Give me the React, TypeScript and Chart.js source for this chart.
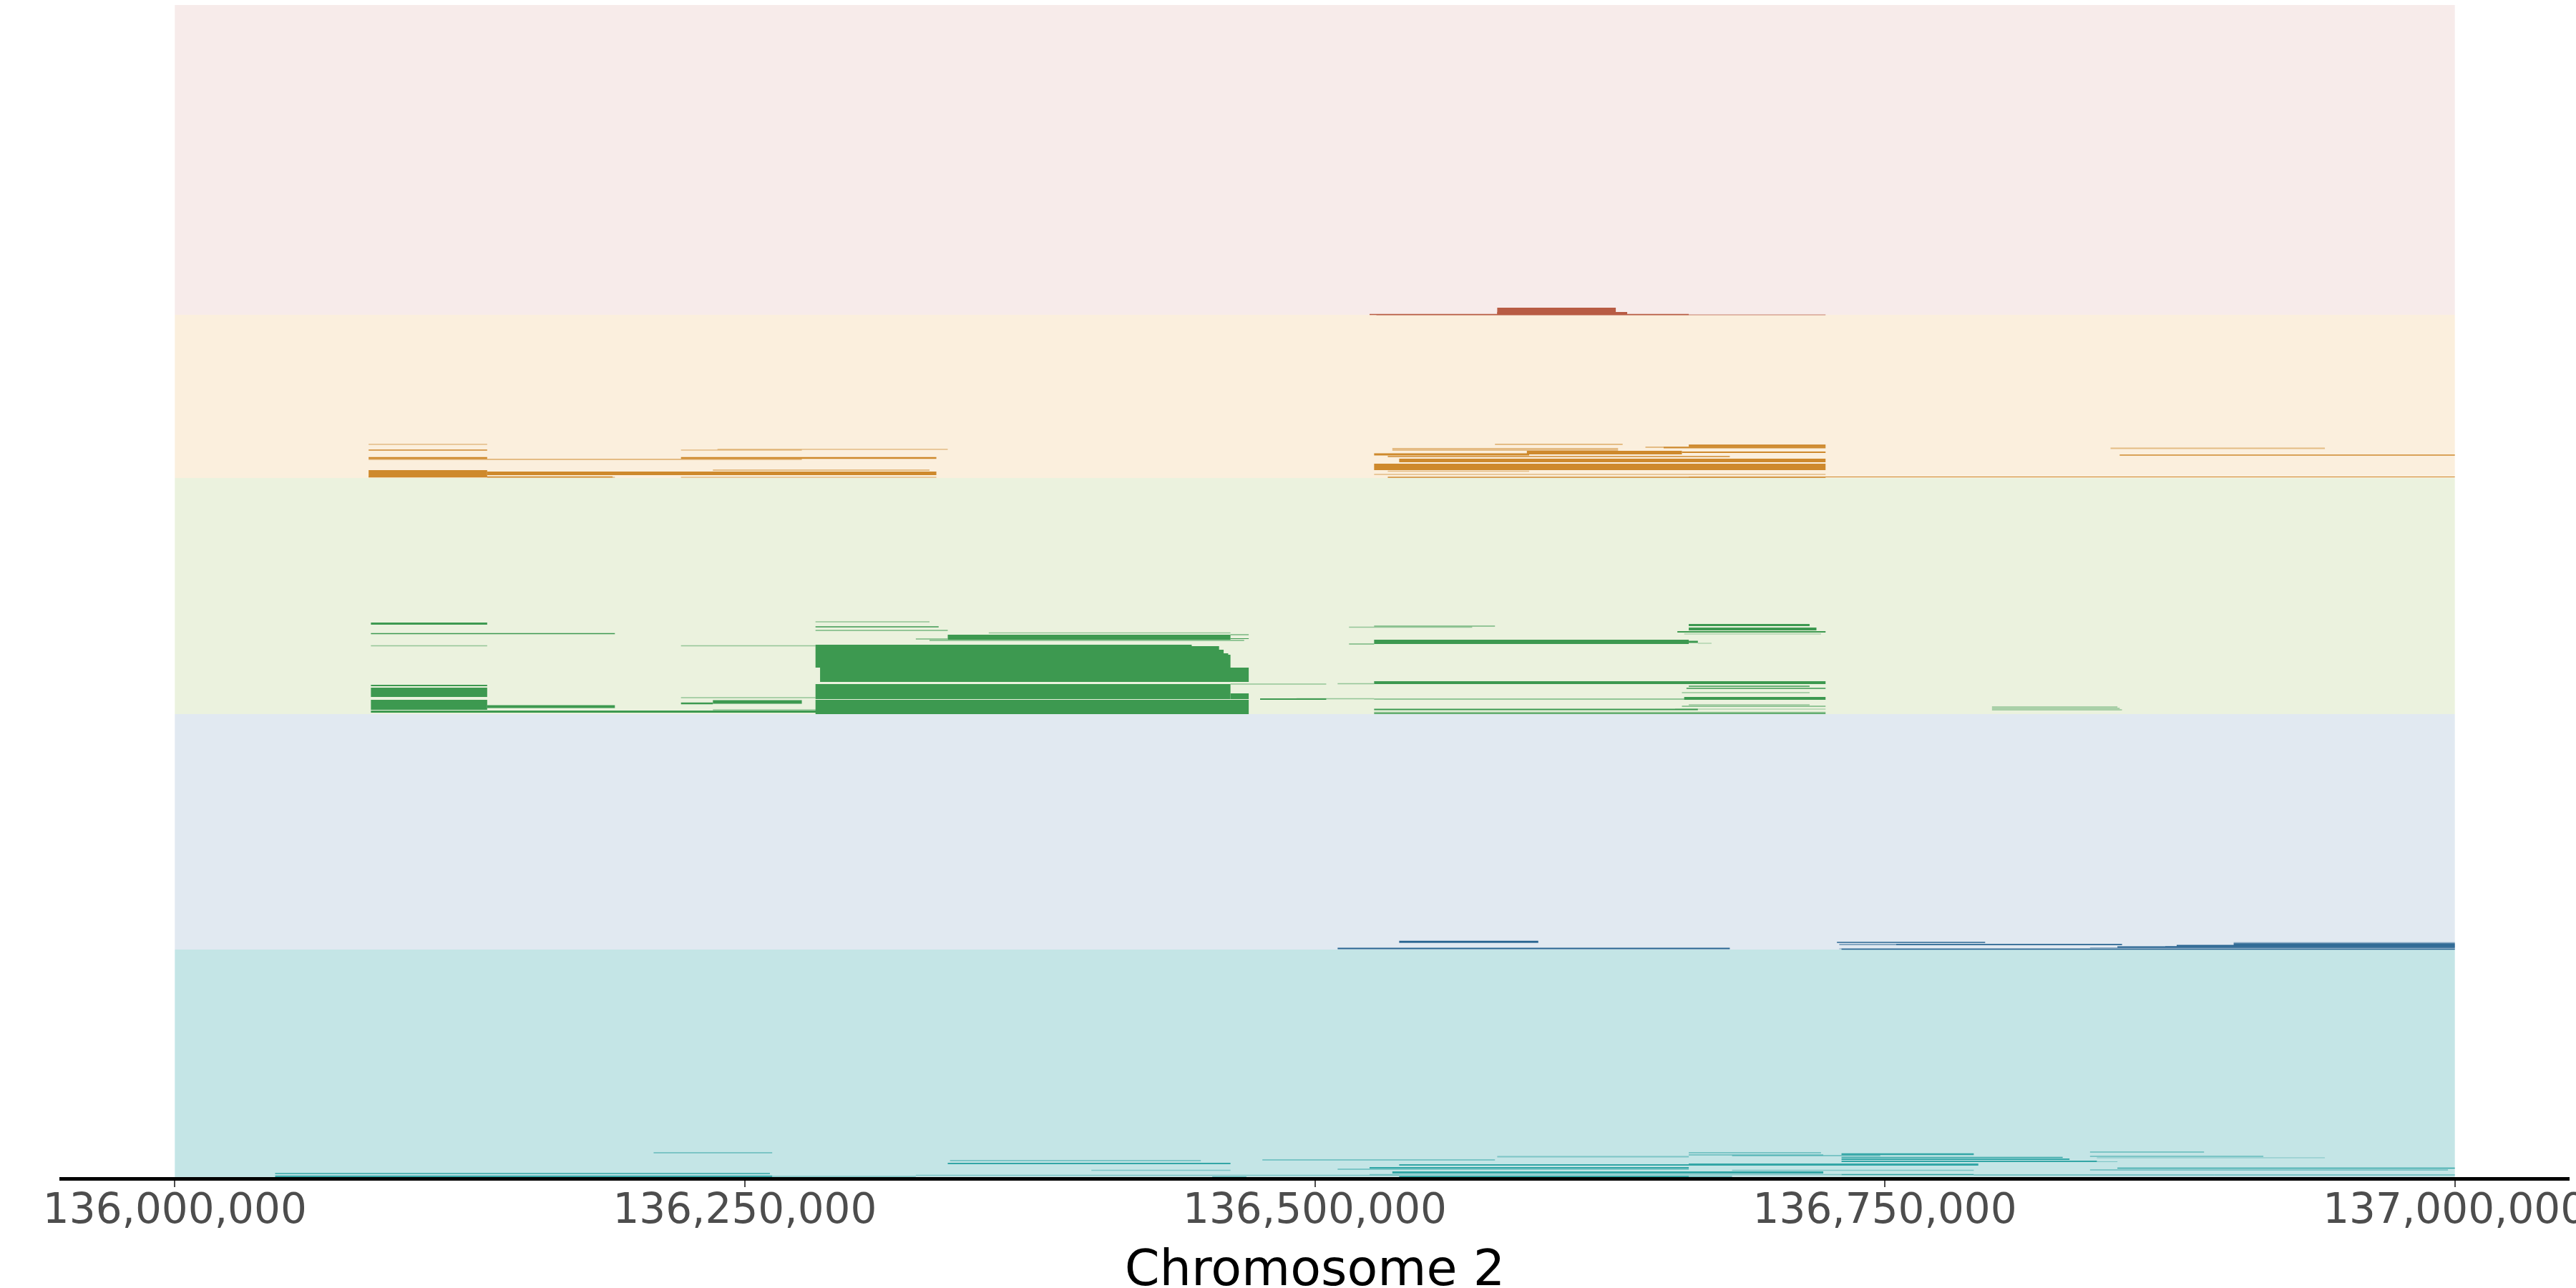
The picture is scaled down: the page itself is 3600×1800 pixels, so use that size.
import React, { useEffect, useRef } from 'react';
import { Chart, registerables } from 'chart.js';

Chart.register(...registerables);

// ---------- data ----------
const REGION_START = 136000000; // bp
const REGION_END_KB = 1000; // region length in kb
const AXIS_MIN = 135950000;
const AXIS_MAX = 137050000;
const X_TICKS = [136000000, 136250000, 136500000, 136750000, 137000000];
const X_TITLE = 'Chromosome 2';
const Y_MAX = 1640;

// track bands, bottom to top (teal, blue, green, peach, pink)
const BAND_EDGES = [0, 320, 649, 979, 1207, 1640];
const BAND_COLORS = ['#c4e5e6', '#e1e9f1', '#ebf2de', '#fbefdd', '#f7ebea'];

// intervals: [start kb, end kb, track value, track height]
const RED_SOLID = [
  [524, 664, 1207.5, 1.5],
  [580, 632, 1212, 10],
  [580, 637, 1209, 4],
];
const RED_LIGHT = [
  [527, 724, 1207, 1.5],
];

const ORANGE_SOLID = [
  [85, 137, 1018, 1.5],
  [85, 137, 1007, 2.5],
  [85, 275, 1005, 1.2],
  [85, 137, 985, 10],
  [137, 334, 985.5, 5],
  [85, 192, 980.5, 1.5],
  [222, 334, 1007, 2.5],
  [236, 331, 990, 1],
  [579, 635, 1026, 1.2],
  [664, 724, 1024, 3.5],
  [653, 724, 1021.5, 2],
  [534, 633, 1018, 1],
  [534, 633, 1020, 1],
  [526, 594, 1012, 3],
  [593, 661, 1014.5, 5],
  [661, 724, 1015, 2],
  [532, 682, 1009, 1.3],
  [537, 724, 1003.5, 5],
  [526, 724, 994.5, 9],
  [532, 724, 980, 1.5],
  [664, 1000, 980.5, 1.2],
  [853, 1000, 1011, 1.3],
];
const ORANGE_LIGHT = [
  [85, 137, 1026, 1.5],
  [137, 193, 980, 1.5],
  [222, 275, 1018, 1.5],
  [238, 339, 1019, 1.5],
  [222, 334, 980, 1.5],
  [532, 594, 988.5, 1.5],
  [526, 724, 984, 1.5],
  [645, 664, 1022, 2],
  [849, 943, 1020.5, 2],
];

const GREEN_SOLID = [
  [86, 137, 775.5, 3],
  [86, 193, 761.5, 1.5],
  [86, 137, 689, 2],
  [86, 137, 679.5, 13],
  [86, 137, 662, 14],
  [137, 193, 659.5, 4],
  [86, 282, 652.5, 3],
  [222, 236, 664, 2.5],
  [236, 275, 666, 5],
  [281, 335, 771, 1.5],
  [281, 339, 766, 1.2],
  [339, 463, 756.5, 7],
  [463, 471, 760, 1],
  [463, 471, 754.5, 1],
  [331, 469, 752, 1.2],
  [281, 446, 745, 2],
  [281, 458, 741.5, 5],
  [281, 460, 736.5, 5],
  [281, 462, 733, 2],
  [281, 463, 723, 18],
  [283, 471, 704, 20],
  [281, 463, 680.5, 21],
  [463, 471, 674, 8],
  [281, 471, 659, 20],
  [476, 505, 670, 2],
  [526, 579, 772, 1],
  [526, 664, 750, 6],
  [515, 526, 747, 1],
  [664, 668, 750, 3],
  [664, 717, 773.5, 3],
  [664, 720, 768, 4],
  [659, 724, 764, 2],
  [526, 724, 693, 4],
  [664, 717, 688, 1.5],
  [663, 724, 685, 1.5],
  [526, 664, 670, 1.2],
  [662, 724, 671, 4],
  [661, 724, 660, 1.2],
  [526, 668, 655.5, 2],
  [526, 724, 650, 1.5],
];
const GREEN_LIGHT = [
  [86, 137, 744.5, 1.5],
  [222, 281, 744.5, 1.5],
  [222, 281, 672, 1.5],
  [236, 282, 655, 1.5],
  [281, 331, 778, 1.5],
  [357, 463, 762.5, 1.5],
  [325, 339, 754, 2],
  [463, 505, 691, 1.5],
  [515, 569, 770.5, 1.5],
  [668, 674, 748, 1],
  [662, 722, 761, 1.2],
  [510, 526, 691.5, 1.5],
  [661, 717, 679, 1.5],
  [492, 526, 670.5, 1.5],
  [664, 717, 662, 1.5],
  [658, 724, 656, 1.2],
  [526, 724, 651.5, 1.5],
  [797, 852, 659, 1.5],
  [797, 853, 657, 1.5],
  [797, 854, 655, 1.5],
];

const BLUE_SOLID = [
  [537, 598, 331, 2.5],
  [510, 682, 321.5, 1.8],
  [729, 794, 330, 1.5],
  [755, 854, 327, 1.5],
  [731, 1000, 320.5, 1.5],
  [852, 1000, 323.5, 1.8],
  [878, 1000, 325.5, 1.8],
  [903, 1000, 327.5, 2.5],
];
const BLUE_LIGHT = [
  [537, 598, 329.5, 1],
  [730, 854, 327, 2],
  [730, 1000, 321, 1.2],
  [840, 1000, 322.5, 1.2],
  [873, 1000, 324.5, 1.2],
  [903, 1000, 329.5, 1.5],
];

const TEAL_SOLID = [
  [44, 261, 7, 1.5],
  [44, 262, 3, 2.5],
  [339, 463, 21, 2],
  [477, 579, 26, 1],
  [510, 664, 13, 1],
  [664, 722, 36, 1.2],
  [664, 723, 33, 1.2],
  [683, 748, 32, 1.2],
  [731, 789, 34, 2.5],
  [731, 828, 29.5, 1.5],
  [731, 831, 27, 2],
  [731, 843, 24, 2],
  [664, 791, 19.5, 3],
  [537, 664, 19, 2],
  [524, 664, 15, 2],
  [534, 723, 8.5, 3],
  [731, 789, 5.5, 1.5],
  [789, 1000, 5, 1],
  [537, 664, 3, 2],
  [664, 683, 3, 1],
  [455, 470, 2, 1.5],
  [840, 890, 37, 1],
  [852, 1000, 14.5, 1.5],
];
const TEAL_LIGHT = [
  [210, 262, 36, 2],
  [262, 325, 3, 1.5],
  [325, 537, 4.5, 1.5],
  [340, 450, 25, 2],
  [402, 463, 11.5, 1.5],
  [580, 664, 30.5, 2],
  [843, 852, 23.5, 1],
  [683, 789, 11.5, 1.5],
  [524, 731, 5.5, 1.5],
  [840, 916, 31, 2],
  [843, 943, 29, 1.2],
  [840, 997, 12, 2],
];

// ---------- styling ----------
const SERIES = [
  { rgb: '184, 92, 68', solid: RED_SOLID, light: RED_LIGHT },
  { rgb: '206, 137, 44', solid: ORANGE_SOLID, light: ORANGE_LIGHT },
  { rgb: '61, 153, 80', solid: GREEN_SOLID, light: GREEN_LIGHT },
  { rgb: '40, 100, 145', solid: BLUE_SOLID, light: BLUE_LIGHT },
  { rgb: '51, 166, 166', solid: TEAL_SOLID, light: TEAL_LIGHT },
];

function toPoints(segs: number[][]) {
  const pts: any[] = [];
  for (const [s, e, y, h] of segs) {
    pts.push({ x: REGION_START + s * 1000, y, h });
    pts.push({ x: REGION_START + e * 1000, y, h });
    pts.push({ x: REGION_START + e * 1000, y: null, h });
  }
  return pts;
}

const widthFromScale = (ctx: any) => {
  const chart = ctx.chart;
  const ys = chart.scales.y;
  const ds = chart.data.datasets[ctx.datasetIndex];
  const d = ds.data[ctx.p0DataIndex];
  if (!d || !ys) return 1;
  return Math.abs(ys.getPixelForValue(0) - ys.getPixelForValue(d.h));
};

function lineDataset(segs: number[][], color: string, order: number) {
  return {
    type: 'line' as const,
    data: toPoints(segs),
    borderColor: color,
    backgroundColor: color,
    borderWidth: 1,
    borderCapStyle: 'butt' as const,
    pointRadius: 0,
    pointHoverRadius: 0,
    pointHitRadius: 0,
    fill: false,
    tension: 0,
    spanGaps: false,
    segment: { borderWidth: widthFromScale },
    order,
  };
}

function buildDatasets() {
  const ds: any[] = [];
  for (const s of SERIES) ds.push(lineDataset(s.solid, `rgb(${s.rgb})`, 0));
  for (const s of SERIES) ds.push(lineDataset(s.light, `rgba(${s.rgb}, 0.5)`, 1));
  for (let i = 0; i < BAND_COLORS.length; i++) {
    const lo = BAND_EDGES[i];
    const hi = BAND_EDGES[i + 1];
    ds.push(lineDataset([[0, REGION_END_KB, (lo + hi) / 2, hi - lo]], BAND_COLORS[i], 2));
  }
  return ds;
}

export default function App() {
  const ref = useRef<HTMLCanvasElement | null>(null);
  useEffect(() => {
    const canvas = ref.current;
    if (!canvas) return;
    const chart = new Chart(canvas, {
      type: 'line',
      data: { datasets: buildDatasets() },
      options: {
        responsive: false,
        animation: false,
        events: [],
        layout: { padding: { top: 7, left: 85, right: 110, bottom: 0 } },
        plugins: {
          legend: { display: false },
          tooltip: { enabled: false },
        },
        scales: {
          x: {
            type: 'linear',
            min: AXIS_MIN,
            max: AXIS_MAX,
            offset: false,
            afterBuildTicks: (scale: any) => {
              scale.ticks = X_TICKS.map((v) => ({ value: v }));
            },
            afterFit: (scale: any) => {
              scale.height = 153;
            },
            ticks: {
              autoSkip: false,
              maxRotation: 0,
              minRotation: 0,
              padding: 0,
              color: '#4d4d4d',
              font: { family: 'DejaVu Sans', size: 58 },
              callback: (v: any) => Number(v).toLocaleString('en-US'),
            },
            grid: {
              drawOnChartArea: false,
              drawTicks: true,
              tickLength: 12,
              tickWidth: 2,
              tickColor: '#4d4d4d',
              color: '#4d4d4d',
              lineWidth: 2,
            },
            border: { display: true, color: '#000000', width: 5, z: 1 },
            title: {
              display: true,
              text: X_TITLE,
              color: '#000000',
              font: { family: 'DejaVu Sans', size: 70, lineHeight: 0.623 },
              padding: 0,
            },
          },
          y: {
            type: 'linear',
            display: false,
            min: 0,
            max: Y_MAX,
            offset: false,
          },
        },
      },
    } as any);
    return () => chart.destroy();
  }, []);
  return (
    <div style={{ position: 'fixed', left: 0, top: 0, width: 3700, height: 1800, background: '#ffffff' }}>
      <canvas ref={ref} width={3700} height={1800} style={{ width: 3700, height: 1800, display: 'block' }} />
    </div>
  );
}
